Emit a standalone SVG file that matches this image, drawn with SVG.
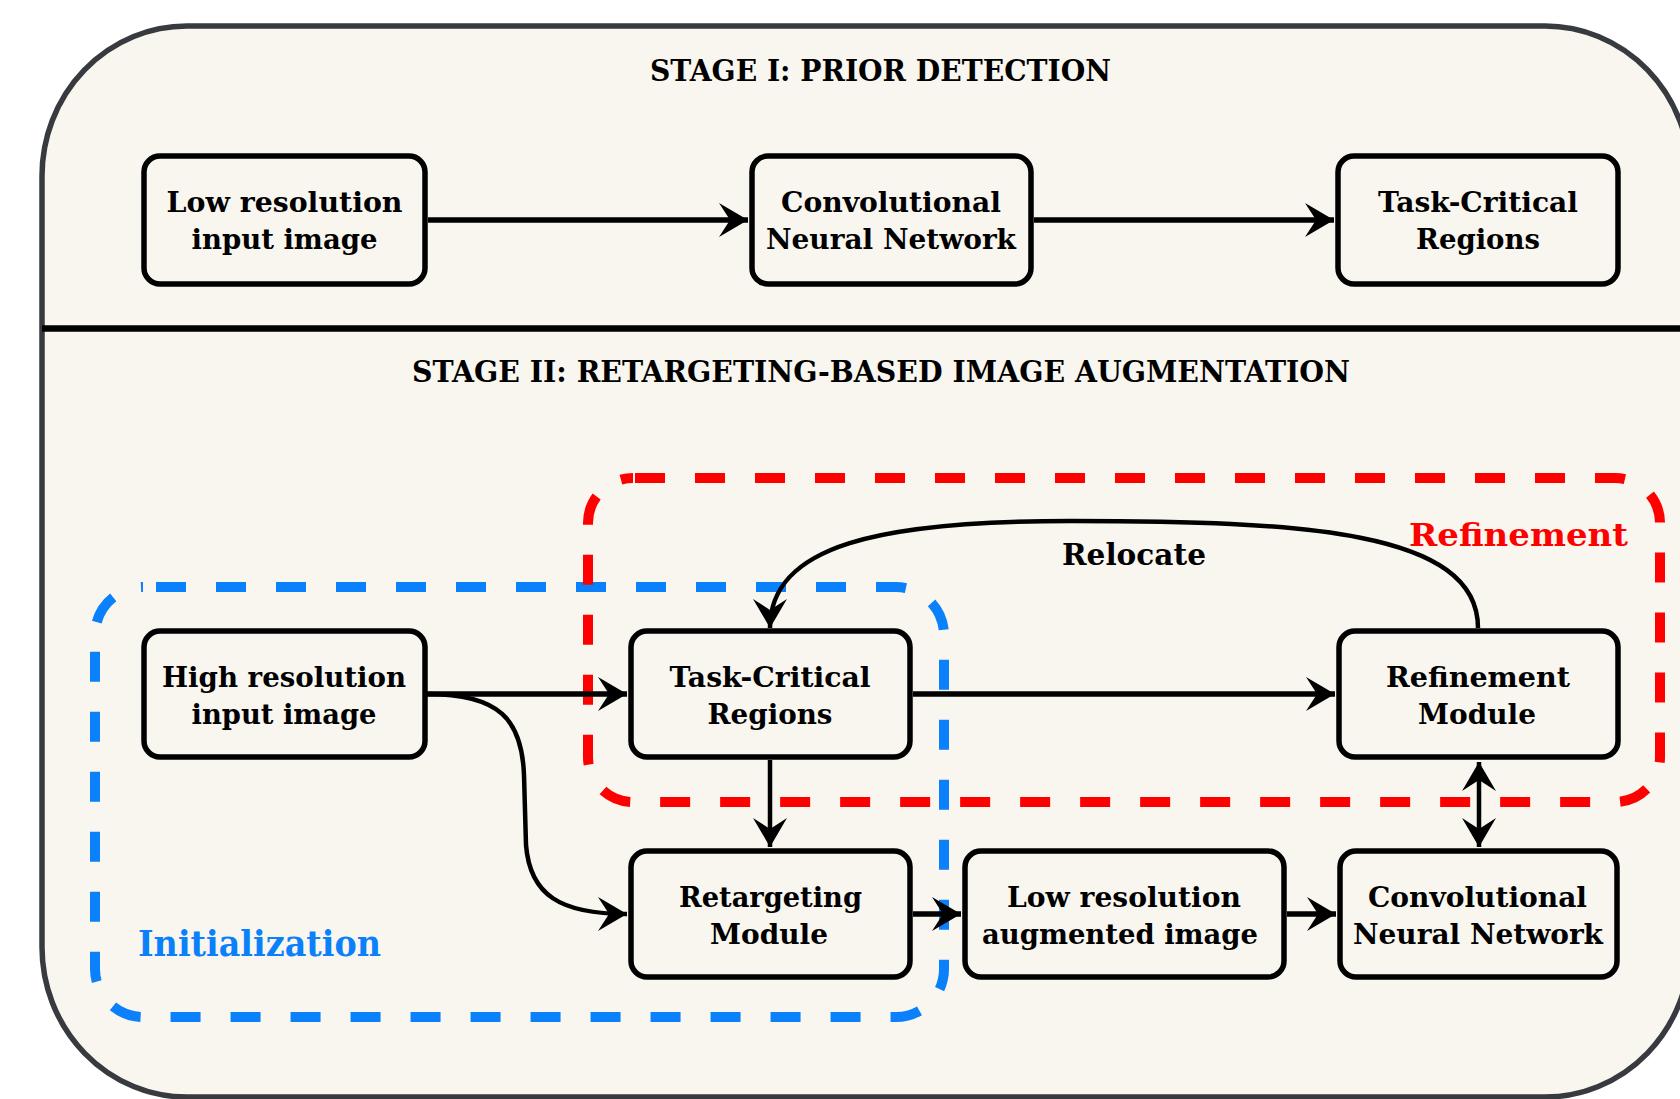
<svg xmlns="http://www.w3.org/2000/svg" width="1680" height="1099" viewBox="0 0 1680 1099">
<style>
.bg{fill:#f8f6ef;stroke:#373a3f;stroke-width:5.5}
.node rect{fill:#f8f6ef;stroke:#000;stroke-width:5.5}
.t{font-family:"DejaVu Serif","Liberation Serif",serif;font-weight:bold;font-size:28px;fill:#000;text-anchor:middle}
.title{font-size:30px}
.edge{fill:none;stroke:#000;stroke-width:5.5}
.thin{stroke-width:4.5}
.red{fill:none;stroke:#ff0000;stroke-width:10;stroke-dasharray:30 30}
.blue{fill:none;stroke:#0a80fa;stroke-width:10;stroke-dasharray:30 30}
</style>
<defs>
<marker id="ah" viewBox="-30 -18 31 36" refX="0" refY="0" markerWidth="31" markerHeight="36" markerUnits="userSpaceOnUse" orient="auto-start-reverse">
<path d="M0,0 L-29,-17 L-18,0 L-29,17 Z" fill="#000"/>
</marker>
</defs>
<rect width="1680" height="1099" fill="#ffffff"/>
<g id="container">
<rect class="bg" x="42" y="26" width="1648" height="1071" rx="145" ry="150"/>
<line x1="42" y1="328.5" x2="1690" y2="328.5" stroke="#000" stroke-width="6.5"/>
<text class="t title" x="880.5" y="81" textLength="461" lengthAdjust="spacingAndGlyphs">STAGE I: PRIOR DETECTION</text>
<text class="t title" x="881" y="382" textLength="938" lengthAdjust="spacingAndGlyphs">STAGE II: RETARGETING-BASED IMAGE AUGMENTATION</text>
</g>
<g id="groups">
<path id="initialization-box" class="blue" stroke-dashoffset="47" d="M143,587 H896 A48,48 0 0 1 944,635 V969 A48,48 0 0 1 896,1017 H143 A48,48 0 0 1 95,969 V635 A48,48 0 0 1 143,587 Z"/>
<path id="refinement-box" class="red" stroke-dashoffset="58" d="M633,478 H1615 A45,45 0 0 1 1660,523 V757 A45,45 0 0 1 1615,802 H633 A45,45 0 0 1 588,757 V523 A45,45 0 0 1 633,478 Z"/>
<text class="t" x="1518.5" y="546" style="font-size:32px;fill:#ff0000" textLength="219" lengthAdjust="spacingAndGlyphs">Refinement</text>
<text class="t" x="259.5" y="956" style="font-size:35px;fill:#0a80fa" textLength="243" lengthAdjust="spacingAndGlyphs">Initialization</text>
</g>
<g id="n1" class="node">
<rect x="144" y="156" width="281" height="128" rx="16"/>
<text class="t" x="284.5" y="212" textLength="236" lengthAdjust="spacingAndGlyphs">Low resolution</text>
<text class="t" x="284.5" y="249" textLength="186" lengthAdjust="spacingAndGlyphs">input image</text>
</g>
<g id="n2" class="node">
<rect x="752" y="156" width="279" height="128" rx="16"/>
<text class="t" x="891" y="212" textLength="220" lengthAdjust="spacingAndGlyphs">Convolutional</text>
<text class="t" x="891" y="249" textLength="250" lengthAdjust="spacingAndGlyphs">Neural Network</text>
</g>
<g id="n3" class="node">
<rect x="1338" y="156" width="280" height="128" rx="16"/>
<text class="t" x="1478" y="212" textLength="200" lengthAdjust="spacingAndGlyphs">Task-Critical</text>
<text class="t" x="1478" y="249" textLength="124" lengthAdjust="spacingAndGlyphs">Regions</text>
</g>
<g id="n4" class="node">
<rect x="144" y="631" width="281" height="126" rx="16"/>
<text class="t" x="284" y="687" textLength="244" lengthAdjust="spacingAndGlyphs">High resolution</text>
<text class="t" x="284" y="724" textLength="185" lengthAdjust="spacingAndGlyphs">input image</text>
</g>
<g id="n5" class="node">
<rect x="631" y="631" width="279" height="126" rx="16"/>
<text class="t" x="770" y="687" textLength="201" lengthAdjust="spacingAndGlyphs">Task-Critical</text>
<text class="t" x="770" y="724" textLength="125" lengthAdjust="spacingAndGlyphs">Regions</text>
</g>
<g id="n6" class="node">
<rect x="1339" y="631" width="279" height="126" rx="16"/>
<text class="t" x="1478" y="687" textLength="184" lengthAdjust="spacingAndGlyphs">Refinement</text>
<text class="t" x="1477" y="724" textLength="118" lengthAdjust="spacingAndGlyphs">Module</text>
</g>
<g id="n7" class="node">
<rect x="631" y="851" width="279" height="126" rx="16"/>
<text class="t" x="770.5" y="907" textLength="183" lengthAdjust="spacingAndGlyphs">Retargeting</text>
<text class="t" x="769" y="944" textLength="118" lengthAdjust="spacingAndGlyphs">Module</text>
</g>
<g id="n8" class="node">
<rect x="965" y="851" width="319" height="126" rx="16"/>
<text class="t" x="1124" y="907" textLength="234" lengthAdjust="spacingAndGlyphs">Low resolution</text>
<text class="t" x="1120" y="944" textLength="276" lengthAdjust="spacingAndGlyphs">augmented image</text>
</g>
<g id="n9" class="node">
<rect x="1340" y="851" width="277" height="126" rx="16"/>
<text class="t" x="1477.5" y="907" textLength="219" lengthAdjust="spacingAndGlyphs">Convolutional</text>
<text class="t" x="1478" y="944" textLength="250" lengthAdjust="spacingAndGlyphs">Neural Network</text>
</g>
<g id="connectors">
<path class="edge" d="M428,220 H748" marker-end="url(#ah)"/>
<path class="edge" d="M1034,220 H1334" marker-end="url(#ah)"/>
<path class="edge" d="M427,694 H627" marker-end="url(#ah)"/>
<path class="edge" d="M913,694 H1335" marker-end="url(#ah)"/>
<path class="edge thin" d="M770,760 V847" marker-end="url(#ah)"/>
<path class="edge" d="M913,914 H961" marker-end="url(#ah)"/>
<path class="edge" d="M1287,914 H1336" marker-end="url(#ah)"/>
<path class="edge thin" d="M1479,762 V847" marker-start="url(#ah)" marker-end="url(#ah)"/>
<path class="edge thin" d="M427,694 C500,694 522,720 524,775 L526,845 C530,895 560,914 627,914" marker-end="url(#ah)"/>
<path class="edge thin" d="M1478,628 C1478,530 1300,521 1071,521 C880,521 770,545 770,628" marker-end="url(#ah)"/>
<text class="t" x="1134" y="565" style="font-size:29px" textLength="144" lengthAdjust="spacingAndGlyphs">Relocate</text>
</g>
</svg>
